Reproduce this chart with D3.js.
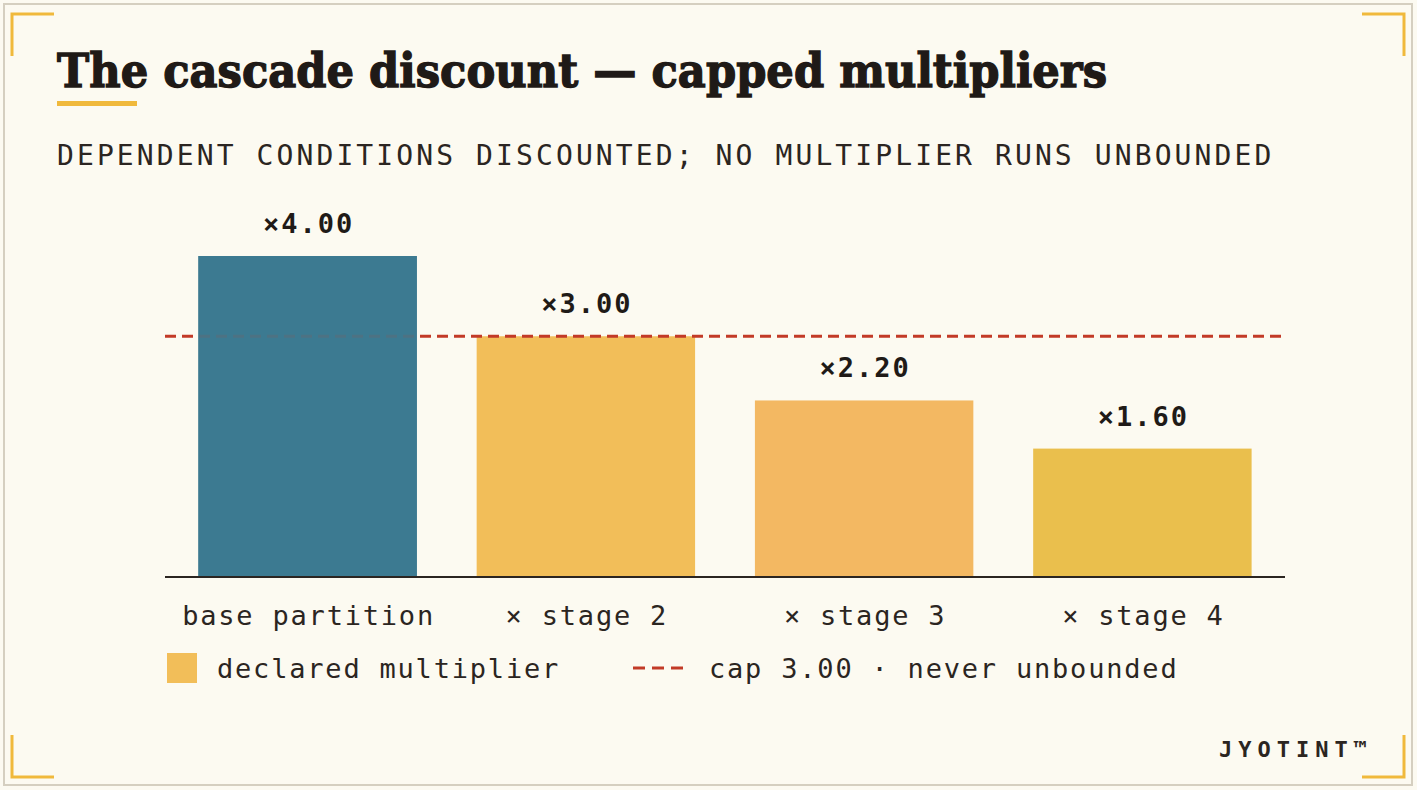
<!DOCTYPE html>
<html>
<head>
<meta charset="utf-8">
<script src="https://cdn.jsdelivr.net/npm/d3@7"></script>
<style>
  html, body { margin: 0; padding: 0; background: #fcfaf1; }
  svg { display: block; }
  .mono { font-family: "DejaVu Sans Mono", "Liberation Mono", monospace; }
</style>
</head>
<body>
<svg id="chart" width="1417" height="790"></svg>
<script>
// chart data
const categories = ["base partition", "× stage 2", "× stage 3", "× stage 4"];
const multipliers = [4.00, 3.00, 2.20, 1.60];
const capValue = 3.00;
const barColors = ["#3c7a91", "#f2be59", "#f3b862", "#eabf4d"];

const W = 1417, H = 790;
const ink = "#2b2521";
const gold = "#f0b93c";
const red = "#c23a27";

const svg = d3.select("#chart");

// background + frame
svg.append("rect").attr("width", W).attr("height", H).attr("fill", "#fcfaf1");
svg.append("rect")
    .attr("x", 4).attr("y", 4).attr("width", W - 9).attr("height", H - 9)
    .attr("fill", "none").attr("stroke", "#d5cfc0").attr("stroke-width", 2);

// corner brackets
const arm = 42;
const corners = [
    [12, 14, 1, 1],
    [1404, 14, -1, 1],
    [12, 777, 1, -1],
    [1404, 777, -1, -1]
];
corners.forEach(([cx, cy, sx, sy]) => {
    svg.append("path")
        .attr("d", `M${cx + sx * arm},${cy} L${cx},${cy} L${cx},${cy + sy * arm}`)
        .attr("fill", "none").attr("stroke", gold).attr("stroke-width", 3);
});

// title
svg.append("text")
    .attr("x", 57).attr("y", 87)
    .attr("textLength", 1050).attr("lengthAdjust", "spacingAndGlyphs")
    .style("font-family", "'DejaVu Serif', 'Liberation Serif', serif")
    .style("font-weight", 900)
    .style("font-size", "47px")
    .attr("fill", "#1f1a17")
    .attr("stroke", "#1f1a17").attr("stroke-width", 1.4)
    .text("The cascade discount — capped multipliers");

svg.append("rect")
    .attr("x", 57).attr("y", 101).attr("width", 80).attr("height", 5)
    .attr("fill", gold);

// subtitle
svg.append("text")
    .attr("class", "mono")
    .attr("x", 57).attr("y", 165)
    .style("font-size", "28px")
    .style("letter-spacing", "3.1px")
    .attr("fill", ink)
    .text("DEPENDENT CONDITIONS DISCOUNTED; NO MULTIPLIER RUNS UNBOUNDED");

// scales
const baseY = 577;
const x = d3.scaleBand()
    .domain(categories)
    .range([165, 1285])
    .paddingInner(0.215)
    .paddingOuter(0.12);

const y = d3.scaleLinear()
    .domain([0, 4])
    .range([baseY, 256]);

// bars
svg.selectAll("rect.bar")
    .data(multipliers)
    .enter()
    .append("rect")
    .attr("class", "bar")
    .attr("x", (d, i) => x(categories[i]))
    .attr("width", x.bandwidth())
    .attr("y", d => y(d))
    .attr("height", d => baseY - y(d))
    .attr("fill", (d, i) => barColors[i]);

// cap line
svg.append("line")
    .attr("x1", 165).attr("x2", 1282)
    .attr("y1", y(capValue)).attr("y2", y(capValue))
    .attr("stroke", red).attr("stroke-width", 3)
    .attr("stroke-dasharray", "11 6");

// base bar veil: the cap shows only faintly through the uncapped base
svg.append("rect")
    .attr("x", x(categories[0]))
    .attr("width", x.bandwidth())
    .attr("y", y(multipliers[0]))
    .attr("height", baseY - y(multipliers[0]))
    .attr("fill", barColors[0])
    .attr("fill-opacity", 0.88);

// value labels
svg.selectAll("text.val")
    .data(multipliers)
    .enter()
    .append("text")
    .attr("class", "val mono")
    .attr("x", (d, i) => x(categories[i]) + x.bandwidth() / 2 + 1)
    .attr("y", d => y(d) - 23)
    .attr("text-anchor", "middle")
    .style("font-size", "27px")
    .style("font-weight", "bold")
    .style("letter-spacing", "2px")
    .attr("fill", "#1f1a17")
    .text(d => "×" + d.toFixed(2));

// axis baseline
svg.append("line")
    .attr("x1", 165).attr("x2", 1285)
    .attr("y1", baseY).attr("y2", baseY)
    .attr("stroke", ink).attr("stroke-width", 2);

// category labels
svg.selectAll("text.cat")
    .data(categories)
    .enter()
    .append("text")
    .attr("class", "cat mono")
    .attr("x", d => x(d) + x.bandwidth() / 2 + 1)
    .attr("y", 625)
    .attr("text-anchor", "middle")
    .style("font-size", "27px")
    .style("letter-spacing", "1.8px")
    .attr("fill", ink)
    .text(d => d);

// legend
const legY = 668;
svg.append("rect")
    .attr("x", 167).attr("y", legY - 15).attr("width", 30).attr("height", 30)
    .attr("fill", barColors[1]);
svg.append("text")
    .attr("class", "mono")
    .attr("x", 217).attr("y", legY + 10)
    .style("font-size", "27px")
    .style("letter-spacing", "1.8px")
    .attr("fill", ink)
    .text("declared multiplier");

svg.append("line")
    .attr("x1", 633).attr("x2", 684)
    .attr("y1", legY).attr("y2", legY)
    .attr("stroke", red).attr("stroke-width", 3)
    .attr("stroke-dasharray", "12 7");
svg.append("text")
    .attr("class", "mono")
    .attr("x", 709).attr("y", legY + 10)
    .style("font-size", "27px")
    .style("letter-spacing", "1.8px")
    .attr("fill", ink)
    .text("cap 3.00 · never unbounded");

// brand mark
svg.append("text")
    .attr("class", "mono")
    .attr("x", 1373).attr("y", 757)
    .attr("text-anchor", "end")
    .style("font-size", "22px")
    .style("font-weight", "bold")
    .style("letter-spacing", "6px")
    .attr("fill", ink)
    .text("JYOTINT™");
</script>
</body>
</html>
